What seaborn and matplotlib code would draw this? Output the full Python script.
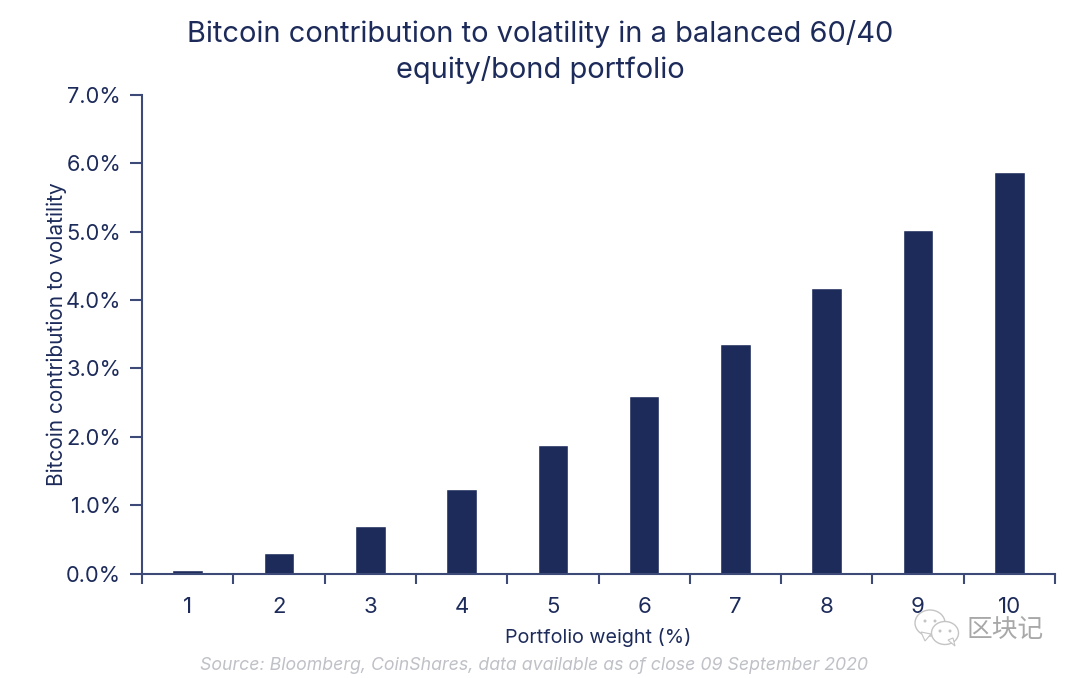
import matplotlib
matplotlib.use('Agg')
import matplotlib.pyplot as plt
from matplotlib.patches import Ellipse, Polygon
import numpy as np
import pandas as pd
import seaborn as sns

weights = ['1', '2', '3', '4', '5', '6', '7', '8', '9', '10']
contribution = [0.05, 0.30, 0.70, 1.23, 1.88, 2.60, 3.36, 4.18, 5.02, 5.88]
y_ticks = [0, 1, 2, 3, 4, 5, 6, 7]
title = 'Bitcoin contribution to volatility in a balanced 60/40\nequity/bond portfolio'
source = 'Source: Bloomberg, CoinShares, data available as of close 09 September 2020'

navy = '#1d2b5a'
axis_col = '#3d4a78'
wm_col = '#c4c4c4'

sns.set_theme(style='white')
plt.rcParams['font.family'] = ['Inter', 'DejaVu Sans']

df = pd.DataFrame({'weight': weights, 'contribution': contribution})

fig = plt.figure(figsize=(10.8, 6.78), dpi=100)
ax = fig.add_axes([142 / 1080, 1 - 573.5 / 678, 913 / 1080, 478.5 / 678])
sns.barplot(data=df, x='weight', y='contribution', color=navy, saturation=1, width=0.335, ax=ax)

ax.set_xlim(-0.5, 9.5)
ax.set_ylim(0, 7)
ax.set_yticks(y_ticks)
ax.set_yticklabels([f'{v:.1f}%' for v in y_ticks], fontsize=15.7, color=navy)
ax.set_xticks(np.arange(10))
ax.set_xticklabels(weights, fontsize=16, color=navy)
ax.set_xticks(np.arange(-0.5, 10), minor=True)
ax.tick_params(axis='x', which='major', length=0, pad=17)
ax.tick_params(axis='x', which='minor', length=7, width=1.5, color=axis_col, bottom=True)
ax.tick_params(axis='y', length=9, width=1.5, color=axis_col, left=True, pad=6)
ax.set_xlabel('Portfolio weight (%)', fontsize=14.2, color=navy, labelpad=8)
ax.set_ylabel('Bitcoin contribution to volatility', fontsize=15, color=navy, labelpad=-1)

sns.despine(ax=ax)
for side in ['left', 'bottom']:
    ax.spines[side].set_color(axis_col)
    ax.spines[side].set_linewidth(1.5)

fig.text(540 / 1080, 1 - 52 / 678, title, ha='center', va='center', fontsize=20.9,
         color=navy, linespacing=1.32)
fig.text(534.5 / 1080, 1 - 665 / 678, source, ha='center', va='center', fontsize=12.75,
         style='italic', color='#bfc1c7')


def px(x, y):
    return x / 1080, 1 - y / 678


# wechat style watermark at the bottom right
for cx, cy, w, h, tail in [(930, 623, 30, 26, [(921, 632), (925, 641), (931, 634)]),
                           (945, 633, 27, 23, [(948, 640), (955, 646), (953, 638)])]:
    fig.add_artist(Ellipse(px(cx, cy), w / 1080, h / 678, facecolor='white',
                           edgecolor=wm_col, linewidth=1, transform=fig.transFigure))
    fig.add_artist(Polygon([px(*p) for p in tail], closed=True, facecolor='white',
                           edgecolor=wm_col, linewidth=0.8, transform=fig.transFigure))
    for dx in (-5, 5):
        fig.add_artist(Ellipse(px(cx + dx, cy - 2), 3 / 1080, 3 / 678, facecolor=wm_col,
                               edgecolor='none', transform=fig.transFigure))
fig.text(1005.5 / 1080, 1 - 630 / 678, '区块记', ha='center', va='center', fontsize=18.5,
         color='#a8a8a8', family=['Noto Sans CJK SC', 'DejaVu Sans'])

fig.savefig('out.png', dpi=100)
